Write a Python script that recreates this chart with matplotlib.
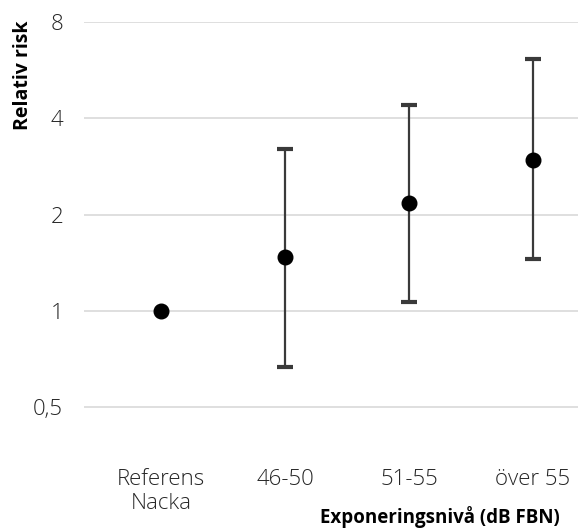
import numpy as np
import matplotlib.pyplot as plt

plt.rcParams['font.family'] = ['Open Sans', 'DejaVu Sans']

# data (relative risk, 95% CI)
categories = ['Referens\nNacka', '46-50', '51-55', 'över 55']
risk = [1.0, 1.47, 2.17, 2.96]
ci_low = [np.nan, 0.67, 1.065, 1.45]
ci_high = [np.nan, 3.21, 4.40, 6.15]
yticks = [0.5, 1, 2, 4, 8]
ytick_labels = ['0,5', '1', '2', '4', '8']

W, H = 579, 531
fig = plt.figure(figsize=(W / 100, H / 100), dpi=100)
ax = fig.add_axes([84 / W, 1 - 445 / H, 494 / W, (445 - 22) / H])

x = np.arange(len(categories))
risk = np.array(risk)
lo = risk - np.array(ci_low)
hi = np.array(ci_high) - risk

# error bars only where a CI exists
m = ~np.isnan(lo)
ax.errorbar(x[m], risk[m], yerr=[lo[m], hi[m]], fmt='none',
            ecolor='#3a3a3a', elinewidth=1.6, capsize=5.5, capthick=3,
            zorder=3)
ax.plot(x, risk, 'o', color='black', markersize=10.5, zorder=4)

ax.set_yscale('log', base=2)
ax.set_ylim(0.381, 8)
ax.set_xlim(-0.621, 3.363)
ax.set_yticks(yticks)
ax.set_yticklabels(ytick_labels)
ax.minorticks_off()
ax.set_xticks(x)
ax.set_xticklabels(categories)

ax.grid(axis='y', color='#d9d9d9', linewidth=1.2)
ax.set_axisbelow(True)
for s in ax.spines.values():
    s.set_visible(False)
ax.tick_params(axis='both', length=0, labelsize=16, colors='#262626')
ax.tick_params(axis='y', pad=15)
ax.tick_params(axis='x', pad=17)
for t in ax.get_xticklabels() + ax.get_yticklabels():
    t.set_fontweight('light')

fig.text(23 / W, 1 - 75 / H, 'Relativ risk', rotation=90, ha='center',
         va='center', fontsize=14, fontweight='bold')
fig.text(440 / W, 1 - 517 / H, 'Exponeringsnivå (dB FBN)', ha='center',
         va='center', fontsize=13.5, fontweight='bold')

fig.savefig('out.png', dpi=100)
